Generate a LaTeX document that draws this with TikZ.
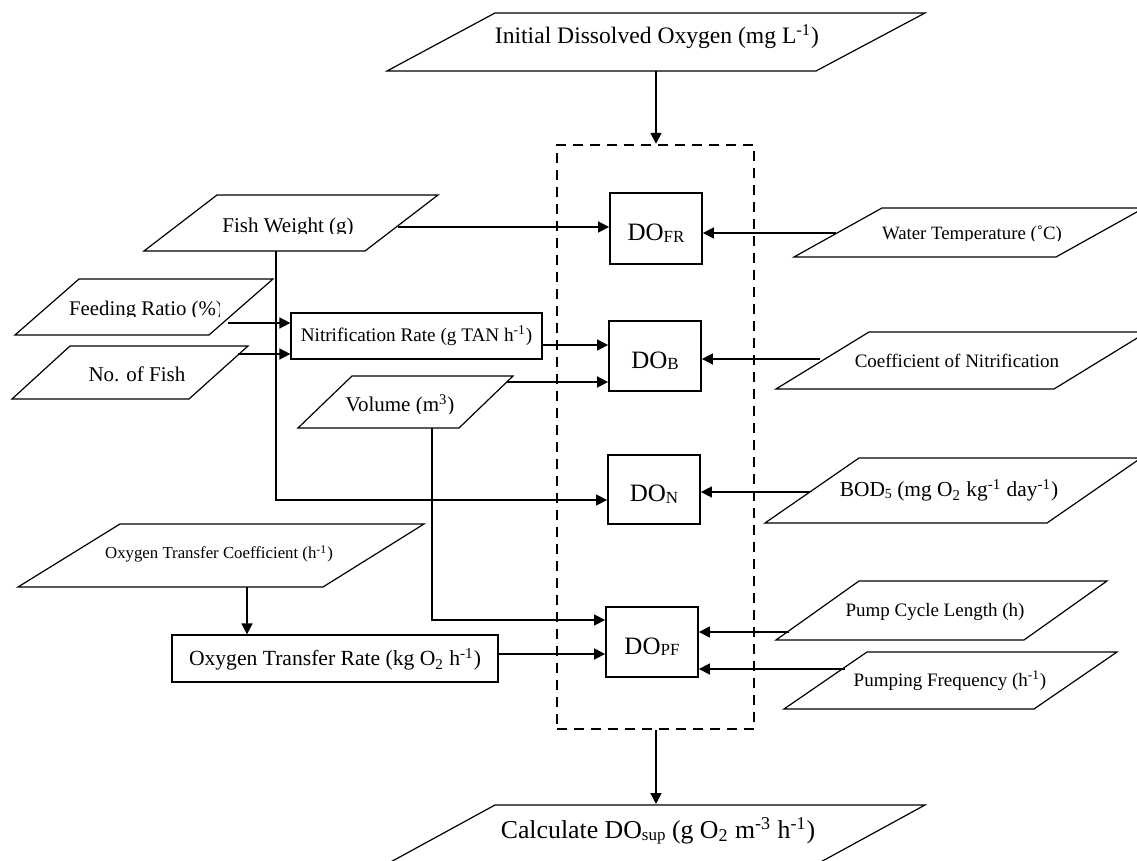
\documentclass[tikz,border=0pt]{standalone}
\usepackage{fontspec}
\setmainfont{Liberation Serif}
\usetikzlibrary{arrows.meta}
\newcommand\fsz[1]{\fontsize{#1}{#1}\selectfont}
\newcommand\dsub[1]{\raisebox{-0.6pt}{\fsz{8.5}#1}}
\tikzset{
  para/.style={draw, line width=0.6pt, line join=miter},
  lbl/.style={inner sep=0pt, anchor=base},
  dobox/.style={draw, line width=0.9pt, minimum width=46pt, minimum height=35pt,
                inner sep=0pt, text height=12.5pt, text depth=0pt, font=\fsz{12.5}},
  rbox/.style={draw, line width=0.6pt, inner sep=0pt, text depth=0pt},
  conn/.style={line width=0.8pt, -{Triangle[length=5.5pt,width=5.5pt]}},
  thinarr/.style={line width=0.6pt, -{Triangle[length=5.5pt,width=5.5pt]}},
  grpbox/.style={draw, line width=1.2pt, dash pattern=on 5pt off 3.5pt},
}
\begin{document}
\begin{tikzpicture}[x=0.5pt,y=-0.5pt]
\useasboundingbox (0,0) rectangle (1137,861);

% ---------- input / output parallelograms ----------
\draw[para] (495,13) -- (925,13) -- (816,71) -- (387,71) -- cycle;
\node[lbl, font=\fsz{11.8}] (ido) at (657,44) {Initial Dissolved Oxygen (mg L\textsuperscript{-1})};

\draw[para] (217,195) -- (438,195) -- (365,251) -- (144,251) -- cycle;
\begin{scope}
  \clip (144,185) rectangle (440,234);
  \node[lbl, font=\fsz{10.5}] (fw) at (288,233) {Fish Weight (g)};
\end{scope}

\draw[para] (79,279) -- (273,279) -- (209,335) -- (15,335) -- cycle;
\begin{scope}
  \clip (15,270) rectangle (219,317);
  \node[lbl, font=\fsz{10.4}] (fr) at (146,316) {Feeding Ratio (\%)};
\end{scope}

\draw[para] (70,346) -- (248,346) -- (189,399) -- (12,399) -- cycle;
\node[lbl, font=\fsz{10.5}] (nf) at (137,382) {No. of Fish};

\draw[para] (352,376) -- (513,376) -- (459,428) -- (298,428) -- cycle;
\begin{scope}
  \clip (298,370) rectangle (513,413.5);
  \node[lbl, font=\fsz{10.5}] (vo) at (400,412) {Volume (m\textsuperscript{3})};
\end{scope}

\draw[para] (120,524) -- (424,524) -- (323,587) -- (18,587) -- cycle;
\node[lbl, font=\fsz{8.4}] (otc) at (219,559) {Oxygen Transfer Coefficient (h\textsuperscript{-1})};

\draw[para] (882,208) -- (1144,208) -- (1056,257) -- (794,257) -- cycle;
\begin{scope}
  \clip (794,200) rectangle (1144,241);
  \node[lbl, font=\fsz{9.4}] (wt) at (972,240) {Water Temperature (˚C)};
\end{scope}

\draw[para] (869,332) -- (1147,332) -- (1054,389) -- (776,389) -- cycle;
\node[lbl, font=\fsz{9.5}] (cn) at (957,368) {Coefficient of Nitrification};

\draw[para] (859,458) -- (1141,458) -- (1047,523) -- (765,523) -- cycle;
\node[lbl, font=\fsz{10.7}] (bod) at (949,497) {BOD\raisebox{-0.8pt}{\fsz{7}5} (mg O\textsubscript{2} kg\textsuperscript{-1} day\textsuperscript{-1})};

\draw[para] (859,581) -- (1107,581) -- (1024,640) -- (776,640) -- cycle;
\node[lbl, font=\fsz{9.5}] (pc) at (935,617) {Pump Cycle Length (h)};

\draw[para] (867,652) -- (1117,652) -- (1034,709) -- (784,709) -- cycle;
\node[lbl, font=\fsz{9.5}] (pf) at (950,687) {Pumping Frequency (h\textsuperscript{-1})};

\draw[para] (495,805) -- (925,805) -- (817,864) -- (387,864) -- cycle;
\node[lbl, font=\fsz{12.9}] (calc) at (658,838) {Calculate DO\raisebox{-1.2pt}{\fsz{8.5}sup} (g O\textsubscript{2} m\textsuperscript{-3} h\textsuperscript{-1})};

% ---------- process boxes ----------
\node[rbox, minimum width=125.5pt, minimum height=23pt, text height=6pt, font=\fsz{9.6}]
  (nitr) at (416.5,336) {Nitrification Rate (g TAN h\textsuperscript{-1})};
\node[rbox, minimum width=163pt, minimum height=23.5pt, text height=7.5pt, font=\fsz{10.8}]
  (otr) at (335,658.5) {Oxygen Transfer Rate (kg O\textsubscript{2} h\textsuperscript{-1})};

\node[grpbox, minimum width=98.5pt, minimum height=292pt] (grp) at (655.5,437) {};

\node[dobox, minimum height=35.5pt] (dofr) at (656,228.5) {DO\dsub{FR}};
\node[dobox] (dob) at (655,356) {DO\dsub{B}};
\node[dobox, minimum height=34.5pt] (don) at (654,489.5) {DO\dsub{N}};
\node[dobox] (dopf) at (652,642) {DO\dsub{PF}};

% ---------- connector end points ----------
\coordinate (idoB) at (656,71);
\coordinate (fwR) at (398,227);
\coordinate (wtL) at (836,233);
\coordinate (frR) at (228,323);
\coordinate (nfR) at (238,354);
\coordinate (nrO) at (542,345);
\coordinate (voR) at (507,382);
\coordinate (cnL) at (820,359);
\coordinate (fwB) at (276,251);
\coordinate (fwT) at (276,500);
\coordinate (bdL) at (810,492);
\coordinate (otcB) at (247,587);
\coordinate (voB) at (432,428);
\coordinate (voT) at (432,620);
\coordinate (otO) at (498,654);
\coordinate (pcL) at (789,632);
\coordinate (pfL) at (845,669);
\coordinate (calcT) at (656,804);

% ---------- connectors ----------
\draw[conn] (idoB) -- (idoB |- grp.north);
\draw[conn] (fwR) -- (fwR -| dofr.west);
\draw[conn] (wtL) -- (wtL -| dofr.east);
\draw[conn] (frR) -- (frR -| nitr.west);
\draw[conn] (nfR) -- (nfR -| nitr.west);
\draw[conn] (nrO) -- (nrO -| dob.west);
\draw[conn] (voR) -- (voR -| dob.west);
\draw[conn] (cnL) -- (cnL -| dob.east);
\draw[thinarr] (fwB) -- (fwT) -- (fwT -| don.west);
\draw[conn] (bdL) -- (bdL -| don.east);
\draw[conn] (otcB) -- (otcB |- otr.north);
\draw[thinarr] (voB) -- (voT) -- (voT -| dopf.west);
\draw[conn] (otO) -- (otO -| dopf.west);
\draw[conn] (pcL) -- (pcL -| dopf.east);
\draw[conn] (pfL) -- (pfL -| dopf.east);
\draw[conn] (grp.south -| calcT) -- (calcT);
\end{tikzpicture}
\end{document}
